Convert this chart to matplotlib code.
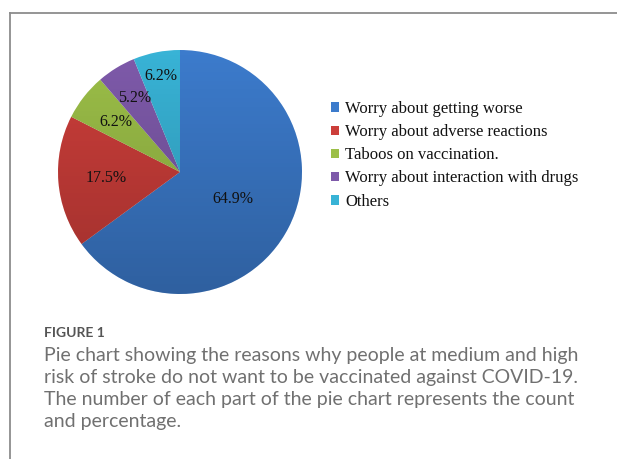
import matplotlib
matplotlib.use('Agg')
import matplotlib.pyplot as plt
import numpy as np
from matplotlib.lines import Line2D
from matplotlib.patches import Circle

# counts behind the percentages (n = 97)
reasons = ['Worry about getting worse', 'Worry about adverse reactions',
           'Taboos on vaccination.', 'Worry about interaction with drugs', 'Others']
counts = [63, 17, 6, 5, 6]
colors = ['#3C7BCC', '#CC3E3A', '#9CBF48', '#7E5AAA', '#38B3D6']
label_dist = [0.49, 0.61, 0.67, 0.71, 0.80]

W, H = 617, 459
fig = plt.figure(figsize=(W / 100, H / 100), dpi=100)

# pie, centre ~(180,172) px, radius ~122 px
cx, cy, r = 180, 172, 122
ax = fig.add_axes([(cx - r) / W, (H - cy - r) / H, 2 * r / W, 2 * r / H])
wedges, texts, autotexts = ax.pie(counts, colors=colors, startangle=90, counterclock=False,
                                  autopct='%1.1f%%', pctdistance=0.5,
                                  textprops=dict(family='Liberation Serif', fontsize=11.5, color='#111111'))
ax.set_xlim(-1, 1)
ax.set_ylim(-1, 1)
ax.set_aspect('equal')

# slight top-to-bottom shading like the original
grad = np.linspace(0, 1, 256).reshape(-1, 1)
shade = np.zeros((256, 1, 4))
shade[..., 3] = 0.22 * grad
img = ax.imshow(shade, extent=(-1, 1, -1, 1), origin='upper', aspect='auto', zorder=2)
img.set_clip_path(Circle((0, 0), 1, transform=ax.transData))

for w, t, d in zip(wedges, autotexts, label_dist):
    ang = np.deg2rad((w.theta1 + w.theta2) / 2)
    t.set_position((d * np.cos(ang), d * np.sin(ang)))
    t.set_zorder(3)

leg = fig.legend(wedges, reasons, loc='upper left', bbox_to_anchor=(331 / W, 1 - 101 / H),
                 frameon=False, borderpad=0, borderaxespad=0, handlelength=0.5, handleheight=0.5,
                 handletextpad=0.35, labelspacing=0.43,
                 prop=dict(family='Liberation Serif', size=12))
for txt in leg.get_texts():
    txt.set_color('#111111')

# caption
fig.text(44 / W, 1 - 333 / H, 'FIGURE 1', family='Lato', fontsize=10, fontweight='bold',
         color='#555555', va='center', ha='left')
caption = ['Pie chart showing the reasons why people at medium and high',
           'risk of stroke do not want to be vaccinated against COVID-19.',
           'The number of each part of the pie chart represents the count',
           'and percentage.']
for i, line in enumerate(caption):
    fig.text(44 / W, 1 - (356 + 22 * i) / H, line, family='Lato', fontsize=14,
             color='#707070', va='center', ha='left')

# frame lines (top and left)
fig.add_artist(Line2D([9.5 / W, 1], [1 - 12.5 / H] * 2, color='#8C8C8C', lw=1.3))
fig.add_artist(Line2D([9.5 / W] * 2, [0, 1 - 12.5 / H], color='#8C8C8C', lw=1.3))

fig.savefig('out.png', dpi=100)
